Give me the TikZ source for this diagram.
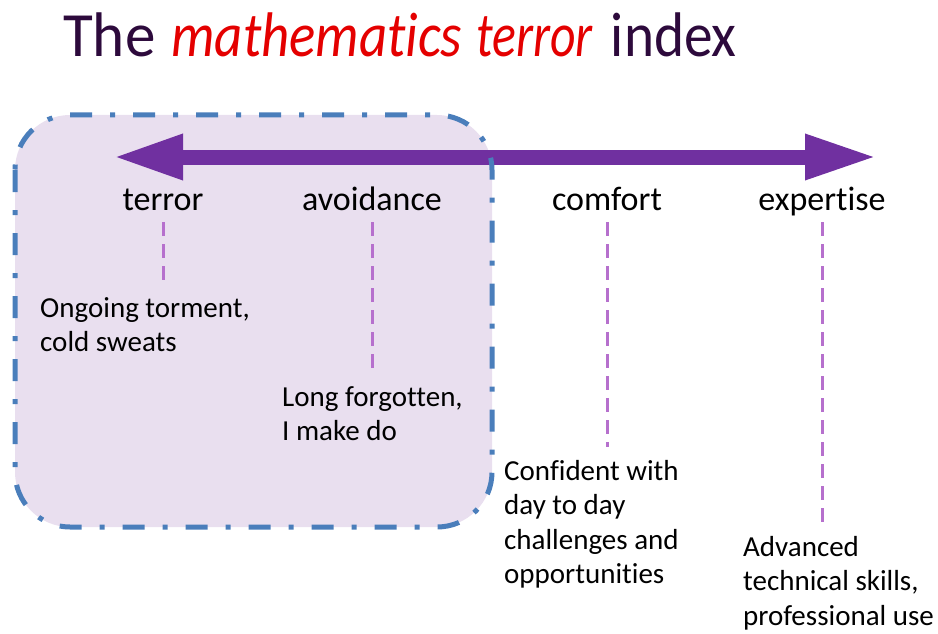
\documentclass[tikz,border=0pt]{standalone}
\usepackage{fontspec}
\setmainfont{Carlito}[Ligatures=NoCommon]
\usepackage{tikz}
\usetikzlibrary{arrows.meta}

\definecolor{titlepurple}{RGB}{45,10,60}
\definecolor{terrorred}{RGB}{228,0,0}
\definecolor{scalepurple}{RGB}{112,48,160}
\definecolor{tickpurple}{RGB}{182,112,205}
\definecolor{zoneblue}{RGB}{74,126,187}
\definecolor{zonefill}{RGB}{233,223,239}

\tikzset{
  stage/.style={font=\fontsize{34}{40}\selectfont, inner sep=0pt, anchor=base},
  note/.style={font=\fontsize{29}{34.5}\selectfont, align=left, inner sep=0pt, anchor=base west},
  tick/.style={tickpurple, line width=3pt, dash pattern=on 14pt off 8pt, shorten >=13pt},
  zone/.style={rounded corners=55pt},
}

\begin{document}
\begin{tikzpicture}[x=1pt,y=-1pt]

\useasboundingbox (0,0) rectangle (938,634);

\node[anchor=base west, inner sep=0pt, font=\fontsize{63}{70}\selectfont, text=titlepurple] (title) at (63,57)
    {\scalebox{0.97}[1]{The}\hspace{16pt}{\color{terrorred}\itshape\scalebox{0.87}[1]{mathematics}\hspace{14pt}\scalebox{0.79}[1]{terror}}\hspace{18pt}\scalebox{0.91}[1]{index}};

% shaded zone behind terror and avoidance
\fill[zonefill, zone] (15,115) rectangle (492,527);

\coordinate (low) at (113,157);
\coordinate (high) at (877,157);
\draw[scalepurple, line width=15pt, {Triangle[length=70pt,width=42pt]}-{Triangle[length=72pt,width=42pt]}] (low) -- (high);

\draw[zoneblue, zone, line width=5pt, dash pattern=on 22pt off 18pt on 5pt off 18pt] (15,115) rectangle (492,527);

\foreach \n/\x in {terror/163,avoidance/372,comfort/607,expertise/822}
    \node[stage] (\n) at (\x,210) {\n};

% base anchor sits on the last line
\node[note] (terror-note) at (40,351.5) {Ongoing torment,\\cold sweats};
\node[note] (avoidance-note) at (282,440.5) {Long forgotten,\\I make do};
\node[note] (comfort-note) at (504,583.5) {Confident with\\day to day\\challenges and\\opportunities};
\node[note] (expertise-note) at (743,625) {Advanced\\technical skills,\\professional use};

\foreach \n in {terror,avoidance,comfort,expertise}
    \draw[tick] ([yshift=-12pt]\n.base) -- (\n.base |- \n-note.north);

\end{tikzpicture}
\end{document}
